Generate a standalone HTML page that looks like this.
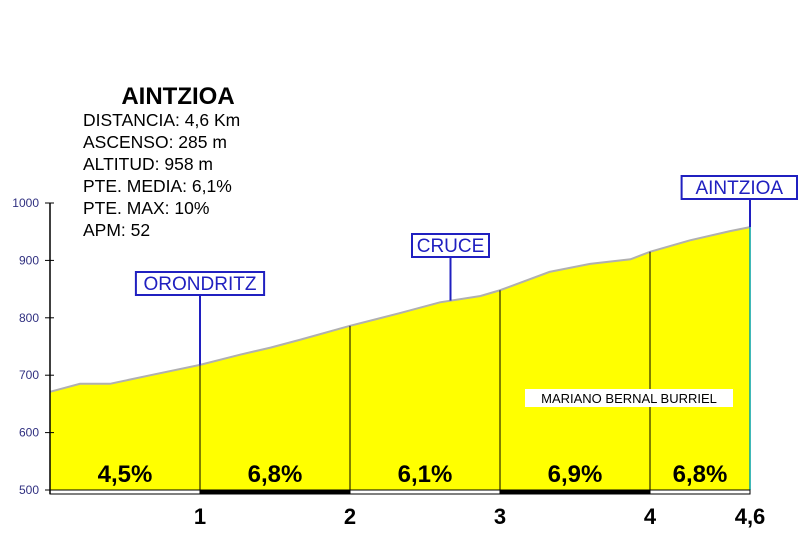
<!DOCTYPE html>
<html><head><meta charset="utf-8"><style>
body{margin:0;background:#fff;}
svg{display:block;font-family:"Liberation Sans",Arial,sans-serif;}
</style></head><body>
<svg id="c" width="800" height="550">
<g id="info">
<text x="178" y="104" text-anchor="middle" font-size="24" font-weight="bold">AINTZIOA</text>
<text x="83" y="126" font-size="17.5">DISTANCIA: 4,6 Km</text>
<text x="83" y="148" font-size="17.5">ASCENSO: 285 m</text>
<text x="83" y="170" font-size="17.5">ALTITUD: 958 m</text>
<text x="83" y="192" font-size="17.5">PTE. MEDIA: 6,1%</text>
<text x="83" y="214" font-size="17.5">PTE. MAX: 10%</text>
<text x="83" y="236" font-size="17.5">APM: 52</text>
</g>
</svg>
<script>
const dists=[0,0.2,0.4,0.67,1,1.27,1.47,1.67,2,2.33,2.6,2.87,3,3.33,3.6,3.87,4,4.24,4.48,4.6];
const elevs=[671,685,685,700,718,736,748,762,786,808,827,838,848,880,894,902,915,935,951,958];
const kmTicks=[1,2,3,4,4.6];
const kmLabels=["1","2","3","4","4,6"];
const yTicks=[500,600,700,800,900,1000];
const segEdges=[0,1,2,3,4,4.6];
const segGrades=["4,5%","6,8%","6,1%","6,9%","6,8%"];
const places=["ORONDRITZ","CRUCE","AINTZIOA"];
const placeKm=[1,2.67,4.6];
const placeElev=[718,830,958];
const placeBoxY=[272,234,176];

const svg=document.getElementById('c');
const NS='http://www.w3.org/2000/svg';
const X=k=>k<=4?50+k*150:650+(k-4)*100/0.6;
const Y=e=>490-(e-500)*0.574;
function mk(t,a,p){const e=document.createElementNS(NS,t);for(const k in a)e.setAttribute(k,a[k]);(p||svg).appendChild(e);return e;}

let d='M'+X(0)+','+Y(500);
dists.forEach((k,i)=>d+=' L'+X(k)+','+Y(elevs[i]));
d+=' L'+X(4.6)+','+Y(500)+' Z';
const area=mk('path',{d:d,fill:'#ffff00'});


let l='';dists.forEach((k,i)=>l+=(i?' L':'M')+X(k)+','+Y(elevs[i]));
const line=mk('path',{d:l,fill:'none',stroke:'#b0b0b0','stroke-width':2});


mk('line',{x1:X(4.6),y1:Y(958),x2:X(4.6),y2:490,stroke:'#00a0a0','stroke-width':1.5});

for(let i=1;i<segEdges.length-1;i++){
 const k=segEdges[i];let e=elevs[0];
 for(let j=0;j<dists.length-1;j++)if(k>=dists[j]&&k<=dists[j+1]){e=elevs[j]+(elevs[j+1]-elevs[j])*(k-dists[j])/(dists[j+1]-dists[j]);}
 const v=mk('line',{x1:X(k),y1:Y(e),x2:X(k),y2:490,stroke:'#000','stroke-width':1});
 
 
}
segGrades.forEach((g,i)=>{
 const a=segEdges[i],b=segEdges[i+1];
 const t=mk('text',{x:(X(a)+X(b))/2,y:482,'text-anchor':'middle','font-size':24,'font-weight':'bold'});
 t.textContent=g;
 
 
 const r=mk('rect',{x:X(a),y:490,width:X(b)-X(a),height:4,fill:i%2?'#000':'#fff',stroke:'#000','stroke-width':1});
 
 
});
mk('line',{x1:50,y1:Y(1000),x2:50,y2:494,stroke:'#000','stroke-width':1.5});
yTicks.forEach(v=>{
 mk('line',{x1:45,y1:Y(v),x2:54,y2:Y(v),stroke:'#000'});
 const t=mk('text',{x:39,y:Y(v)+4,'text-anchor':'end','font-size':12,fill:'#303080'});
 t.textContent=v;
 
 
});
kmTicks.forEach((k,i)=>{
 const t=mk('text',{x:X(k),y:524,'text-anchor':'middle','font-size':22,'font-weight':'bold'});
 t.textContent=kmLabels[i];
 
 
});
places.forEach((p,i)=>{
 const x=X(placeKm[i]);
 const w=p.length*12.8+13;
 const bx=i==2?Math.min(x-w/2,797-w):x-w/2;
 const cx=bx+w/2;
 mk('line',{x1:i==2?x:cx,y1:placeBoxY[i]+23,x2:i==2?x:cx,y2:Y(placeElev[i]),stroke:'#2020c0','stroke-width':2});
 const r=mk('rect',{x:bx,y:placeBoxY[i],width:w,height:23,fill:'#fff',stroke:'#2020c0','stroke-width':2});
 
 
 const t=mk('text',{x:cx,y:placeBoxY[i]+18,'text-anchor':'middle','font-size':19,fill:'#2020c0'});
 t.textContent=p;
 
 
});
const cr=mk('rect',{x:525,y:389,width:208,height:18,fill:'#fff'});


const ct=mk('text',{x:629,y:403,'text-anchor':'middle','font-size':13});
ct.textContent='MARIANO BERNAL BURRIEL';


svg.appendChild(document.getElementById('info'));
</script>
</body></html>
